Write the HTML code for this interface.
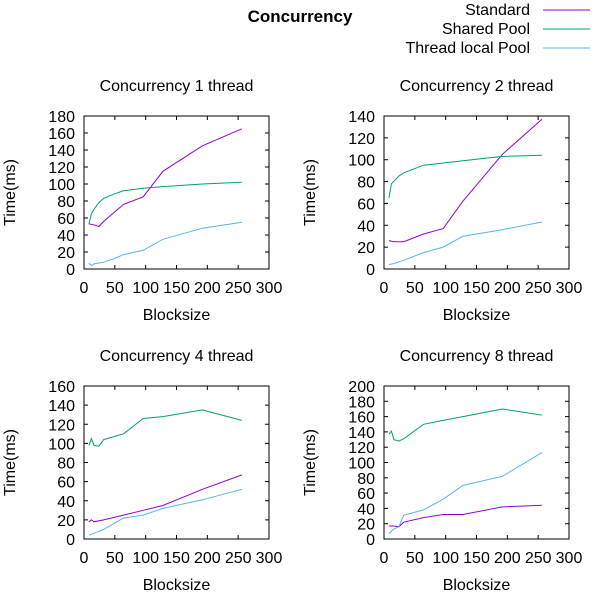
<!DOCTYPE html>
<html><head><meta charset="utf-8"><style>
body{margin:0;background:#fff;}
svg{display:block;font-family:"Liberation Sans",sans-serif;}
</style></head><body>
<svg id="c" width="600" height="600" viewBox="0 0 600 600">
<text x="300" y="22" text-anchor="middle" font-size="17" font-weight="bold">Concurrency</text>
<g font-size="16">
<g><text x="530" y="15" text-anchor="end">Standard</text><line x1="543" y1="10" x2="590" y2="10" stroke="#9400d3"/></g>
<g><text x="530" y="34" text-anchor="end">Shared Pool</text><line x1="543" y1="29" x2="590" y2="29" stroke="#009e73"/></g>
<g><text x="530" y="53" text-anchor="end">Thread local Pool</text><line x1="543" y1="48" x2="590" y2="48" stroke="#56b4e9"/></g>
</g>
</svg>
<script>
const seriesNames = ["Standard","Shared Pool","Thread local Pool"];
const colors = ["#9400d3","#009e73","#56b4e9"];
const xTicks = [0,50,100,150,200,250,300];
const titles = ["Concurrency 1 thread","Concurrency 2 thread","Concurrency 4 thread","Concurrency 8 thread"];
const yMax = [180,140,160,200];
const yStep = [20,20,20,20];
// panel 1
const p1StdX = [8,16,24,32,64,96,128,192,256];
const p1StdY = [53,52,50,56,76,85,115,145,165];
const p1ShX = [8,12,16,24,32,48,64,96,128,192,256];
const p1ShY = [53,65,70,78,83,88,92,95,97,100,102];
const p1ThX = [8,12,16,32,48,64,96,128,192,256];
const p1ThY = [7,4,6,8,12,17,22,35,48,55];
// panel 2
const p2StdX = [8,16,32,64,96,128,192,256];
const p2StdY = [26,25,25,32,37,62,105,137];
const p2ShX = [8,12,24,32,64,96,128,192,256];
const p2ShY = [65,78,85,88,95,97,99,103,104];
const p2ThX = [8,16,32,64,96,128,192,256];
const p2ThY = [4,5,8,15,20,30,36,43];
// panel 3
const p3StdX = [8,12,16,32,64,96,128,192,256];
const p3StdY = [18,20,18,20,25,30,35,52,67];
const p3ShX = [8,12,16,24,32,64,96,128,192,256];
const p3ShY = [98,105,98,97,104,110,126,128,135,124];
const p3ThX = [8,16,32,64,96,128,192,256];
const p3ThY = [4,6,10,22,25,32,41,52];
// panel 4
const p4StdX = [8,16,24,32,64,96,128,192,256];
const p4StdY = [17,17,16,22,28,32,32,42,44];
const p4ShX = [8,12,16,24,32,64,96,128,192,256];
const p4ShY = [137,141,130,128,131,150,155,160,170,162];
const p4ThX = [8,16,24,32,64,96,128,192,256];
const p4ThY = [7,13,16,31,38,52,70,82,113];

const panels = [
 {l:84,r:269,t:116,b:269,s:[[p1StdX,p1StdY],[p1ShX,p1ShY],[p1ThX,p1ThY]]},
 {l:384,r:569,t:116,b:269,s:[[p2StdX,p2StdY],[p2ShX,p2ShY],[p2ThX,p2ThY]]},
 {l:84,r:269,t:386,b:539,s:[[p3StdX,p3StdY],[p3ShX,p3ShY],[p3ThX,p3ThY]]},
 {l:384,r:569,t:386,b:539,s:[[p4StdX,p4StdY],[p4ShX,p4ShY],[p4ThX,p4ThY]]}
];
const NS="http://www.w3.org/2000/svg";
const svg=document.getElementById('c');
function mk(tag,attrs,parent){const e=document.createElementNS(NS,tag);for(const k in attrs)e.setAttribute(k,attrs[k]);(parent||svg).appendChild(e);return e;}
panels.forEach((p,i)=>{
 const g=mk('g',{});
 
 
 const xs=v=>p.l+v/300*(p.r-p.l);
 const ys=v=>p.b-v/yMax[i]*(p.b-p.t);
 const t=mk('text',{x:(p.l+p.r)/2,y:p.t-25,'text-anchor':'middle','font-size':'16'},g);
 t.textContent=titles[i];
 
 
 for(let v=0;v<=yMax[i];v+=yStep[i]){
  const y=ys(v);
  mk('line',{x1:p.l,y1:y,x2:p.l+4,y2:y,stroke:'#000'},g);
  mk('line',{x1:p.r,y1:y,x2:p.r-4,y2:y,stroke:'#000'},g);
  const tl=mk('text',{x:p.l-9,y:y+6,'text-anchor':'end','font-size':'16'},g);
  tl.textContent=v;
  
  
 }
 xTicks.forEach(v=>{
  const x=xs(v);
  mk('line',{x1:x,y1:p.b,x2:x,y2:p.b-4,stroke:'#000'},g);
  mk('line',{x1:x,y1:p.t,x2:x,y2:p.t+4,stroke:'#000'},g);
  const tl=mk('text',{x:x,y:p.b+24,'text-anchor':'middle','font-size':'16'},g);
  tl.textContent=v;
  
  
 });
 const fr=mk('rect',{x:p.l,y:p.t,width:p.r-p.l,height:p.b-p.t,fill:'none',stroke:'#000'},g);
 
 
 const xl=mk('text',{x:(p.l+p.r)/2,y:p.b+51,'text-anchor':'middle','font-size':'16'},g);
 xl.textContent='Blocksize';
 
 
 const cy=(p.t+p.b)/2, cx=p.l-69;
 const yl=mk('text',{x:cx,y:cy,'text-anchor':'middle','font-size':'16',transform:`rotate(-90 ${cx} ${cy})`},g);
 yl.textContent='Time(ms)';
 
 
 p.s.forEach((s,k)=>{
  const pts=s[0].map((x,j)=>xs(x).toFixed(1)+','+ys(s[1][j]).toFixed(1)).join(' ');
  const pl=mk('polyline',{points:pts,fill:'none',stroke:colors[k],'stroke-width':'1'},g);
  
  
 });
});
</script>
</body></html>
